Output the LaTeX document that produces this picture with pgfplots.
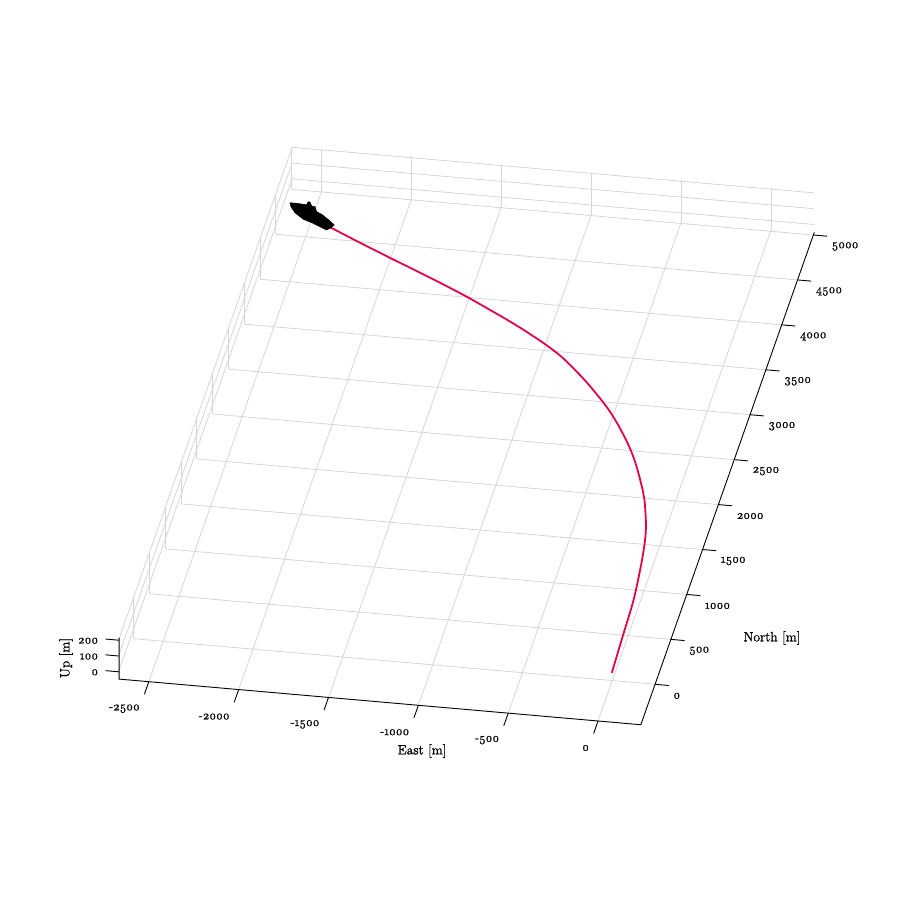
\documentclass[border=0pt]{standalone}
\usepackage{fontspec}
\setmainfont{Latin Modern Roman}[Numbers=OldStyle,RawFeature={embolden=1.2}]
\usepackage{pgfplots}
\pgfplotsset{compat=1.18}
\definecolor{gridc}{gray}{0.84}
\definecolor{track}{RGB}{230,0,75}
\begin{document}
\begin{tikzpicture}[x=1pt,y=1pt]
\path[use as bounding box] (0,0) rectangle (900,900);
\begin{axis}[
  at={(612.3pt,228.6pt)},anchor=origin,
  x={(0.17968pt,-0.01572pt)},
  y={(0.03166pt,0.08986pt)},
  z={(0pt,0.158pt)},
  xmin=-2665,xmax=238,ymin=-450,ymax=5015,zmin=-58,zmax=205,
  xtick={-2500,-2000,-1500,-1000,-500,0},
  ytick={0,500,1000,1500,2000,2500,3000,3500,4000,4500,5000},
  ztick={0,100,200},
  axis line style={draw=none},
  grid=major,
  major grid style={gridc,line width=0.8pt},
  major tick length=0pt,
  tick style={draw=none},
  clip=false,
  /pgf/number format/assume math mode=true,
  /pgf/number format/1000 sep={},
  tick label style={font=\fontsize{12.2}{14}\selectfont},
  xticklabel style={anchor=east,xshift=-5.5pt,yshift=-27pt},
  yticklabel style={anchor=west,xshift=14.8pt,yshift=-11.5pt},
  zticklabel style={anchor=east,xshift=-17.5pt,yshift=-2.4pt},
  label style={font=\fontsize{13.5}{15}\selectfont},
  xlabel={East [m]},ylabel={North [m]},zlabel={Up [m]},
  xlabel style={at={(axis cs:-893,-940,-58)},anchor=center},
  ylabel style={at={(axis cs:781,611,-58)},anchor=center,rotate=0,sloped=false},
  zlabel style={at={(axis cs:-2992,-272,-58)},anchor=center,rotate=0,sloped=false},
]
\addplot3[track,line width=1.8pt,line join=round,smooth] coordinates {
(0,-15,0)(-11,403,0)(-21,791,0)(-47,1176,0)(-73,1449,0)(-100,1630,0)(-152,1880,0)(-181,1987,0)
(-258,2233,0)(-329,2425,0)(-421,2632,0)(-506,2801,0)(-586,2937,0)(-708,3126,0)(-861,3334,0)
(-981,3465,0)(-1144,3617,0)(-1269,3723,0)(-1480,3893,0)(-1618,3996,0)(-1744,4086,0)(-1848,4159,0)
(-1965,4239,0)(-2105,4338,0)(-2220,4420,0)(-2366,4527,0)};
\addplot3[black,fill=black,line width=0.5pt] coordinates {
(-2632,4755,0)(-2594,4755,0)(-2538,4749,0)(-2536,4780,0)(-2525,4782,0)(-2508,4740,0)(-2489,4736,0)
(-2470,4683,0)(-2438,4660,0)(-2381,4596,0)(-2350,4556,0)(-2367,4517,0)(-2382,4495,0)(-2424,4524,0)
(-2476,4560,0)(-2528,4589,0)(-2586,4652,0)(-2619,4713,0)(-2632,4755,0)};
\draw[black,line width=0.9pt] (axis cs:-2665,-450,205)--(axis cs:-2665,-450,-58)--(axis cs:238,-450,-58)--(axis cs:238,5030,-58);
\pgfplotsinvokeforeach{-2500,-2000,-1500,-1000,-500,0}{
  \draw[black,line width=0.9pt] (axis cs:#1,-450,-58)--(axis cs:#1,-590,-58);}
\pgfplotsinvokeforeach{0,500,1000,1500,2000,2500,3000,3500,4000,4500,5000}{
  \draw[black,line width=0.9pt] (axis cs:238,#1,-58)--(axis cs:314,#1,-58);}
\pgfplotsinvokeforeach{-12,88,188}{
  \draw[black,line width=0.9pt] (axis cs:-2665,-450,#1)--(axis cs:-2741,-450,#1);}
\end{axis}
\end{tikzpicture}
\end{document}
